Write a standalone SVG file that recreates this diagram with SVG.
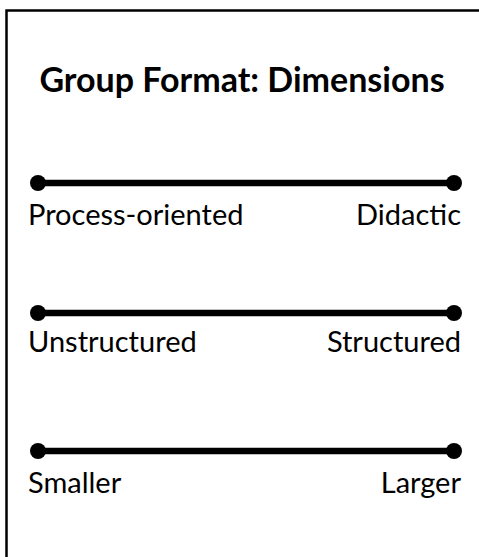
<svg xmlns="http://www.w3.org/2000/svg" width="479" height="557" viewBox="0 0 479 557">
  <style>
    .frame { fill: #fff; stroke: #000; stroke-width: 2.5; }
    .bar { stroke: #000; stroke-width: 6.5; stroke-linecap: butt; }
    .dot { fill: #000; }
    .title { font-family: "Lato", "Open Sans", sans-serif; font-weight: 700; font-size: 34px; fill: #000; }
    .lbl { font-family: "Lato", "Open Sans", sans-serif; font-size: 29px; fill: #000; }
  </style>
  <rect width="479" height="557" fill="#fff"/>
  <rect class="frame" x="6.5" y="10.5" width="500" height="580"/>
  <g id="title">
    <text class="title" x="242" y="92" text-anchor="middle">Group Format: Dimensions</text>
  </g>
  <g id="connectors">
    <line class="bar" x1="38" y1="183" x2="454" y2="183"/>
    <line class="bar" x1="38" y1="313" x2="454" y2="313"/>
    <line class="bar" x1="38" y1="451" x2="454" y2="451"/>
  </g>
  <g id="dim-process">
    <circle class="dot" cx="38" cy="183" r="8"/>
    <circle class="dot" cx="454" cy="183" r="8"/>
    <text class="lbl" x="28" y="225">Process-oriented</text>
    <text class="lbl" x="461" y="225" text-anchor="end">Didactic</text>
  </g>
  <g id="dim-structure">
    <circle class="dot" cx="38" cy="313" r="8"/>
    <circle class="dot" cx="454" cy="313" r="8"/>
    <text class="lbl" x="28" y="352">Unstructured</text>
    <text class="lbl" x="461" y="352" text-anchor="end">Structured</text>
  </g>
  <g id="dim-size">
    <circle class="dot" cx="38" cy="451" r="8"/>
    <circle class="dot" cx="454" cy="451" r="8"/>
    <text class="lbl" x="28" y="493">Smaller</text>
    <text class="lbl" x="461" y="493" text-anchor="end">Larger</text>
  </g>
</svg>
